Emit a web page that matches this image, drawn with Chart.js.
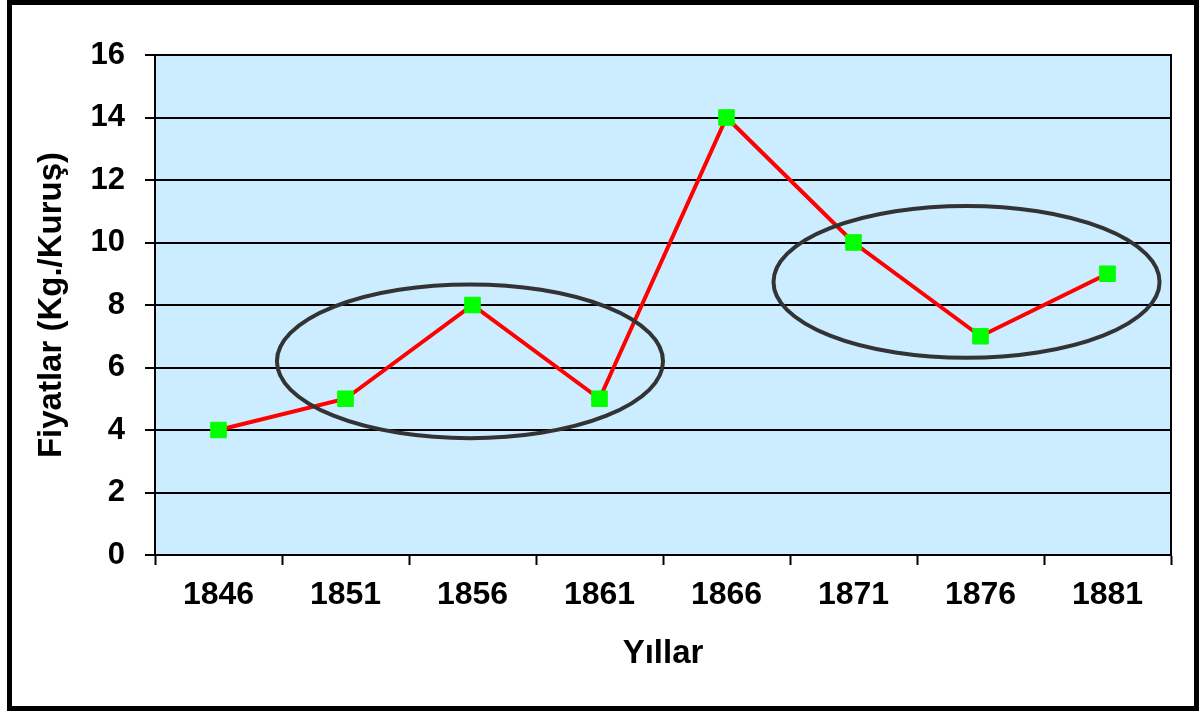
<!DOCTYPE html>
<html>
<head>
<meta charset="utf-8">
<script src="https://cdn.jsdelivr.net/npm/chart.js@4.4.0/dist/chart.umd.min.js"></script>
<style>
    html, body { margin: 0; padding: 0; background: #ffffff; }
    canvas { display: block; }
</style>
</head>
<body>
<canvas id="priceChart" width="1200" height="711"></canvas>
<script>
    'use strict';

    // data
    var years  = ['1846', '1851', '1856', '1861', '1866', '1871', '1876', '1881'];
    var prices = [4, 5, 8, 5, 14, 10, 7, 9];
    var yTicks = [0, 2, 4, 6, 8, 10, 12, 14, 16];

    // circled groups: [category index, value, radius in categories, radius in value units]
    var groupCenterX = [1.98, 5.89];
    var groupCenterY = [6.2, 8.74];
    var groupRadiusX = [1.52, 1.52];
    var groupRadiusY = [2.46, 2.43];

    var colors = {
        plotBg   : "#ccecff",
        line     : "#ff0000",
        marker   : "#00ff00",
        grid     : "#000000",
        ellipse  : "#333333",
        text     : "#000000"
    }

    var fontFamily = "'Liberation Sans', Arial, Helvetica, sans-serif"

    var framePlugin = {
        id: 'frame',
        beforeDraw: function(chart) {
            var ctx = chart.ctx;
            var a = chart.chartArea;
            ctx.save();
            ctx.fillStyle = '#ffffff';
            ctx.fillRect(0, 0, chart.width, chart.height);
            ctx.lineWidth = 5;
            ctx.strokeStyle = '#000000';
            ctx.strokeRect(9.5, 2.5, 1187, 706);
            ctx.fillStyle = colors.plotBg;
            ctx.fillRect(a.left, a.top, a.right - a.left, a.bottom - a.top);
            ctx.restore();
        },
        beforeDatasetsDraw: function(chart) {
            var ctx = chart.ctx;
            var a = chart.chartArea;
            ctx.save();
            ctx.lineWidth = 2;
            ctx.strokeStyle = colors.grid;
            ctx.strokeRect(a.left, a.top, a.right - a.left, a.bottom - a.top);
            ctx.restore();
        },
        afterDatasetsDraw: function(chart) {
            var ctx = chart.ctx;
            var xs = chart.scales.x;
            var ys = chart.scales.y;
            var step = xs.getPixelForValue(1) - xs.getPixelForValue(0);
            ctx.save();
            ctx.lineWidth = 4;
            ctx.strokeStyle = colors.ellipse;
            for (var i = 0; i < groupCenterX.length; i++) {
                var cx = xs.getPixelForValue(0) + groupCenterX[i] * step;
                var cy = ys.getPixelForValue(groupCenterY[i]);
                var rx = groupRadiusX[i] * step;
                var ry = ys.getPixelForValue(0) - ys.getPixelForValue(groupRadiusY[i]);
                ctx.beginPath();
                ctx.ellipse(cx, cy, rx, ry, 0, 0, Math.PI * 2);
                ctx.stroke();
            }
            ctx.restore();
        }
    };

    new Chart(document.getElementById('priceChart'), {
        type: 'line',
        data: {
            labels: years,
            datasets: [{
                data: prices,
                borderColor: colors.line,
                borderWidth: 4,
                backgroundColor: colors.marker,
                pointStyle: 'rect',
                pointRadius: 11,
                pointBorderWidth: 1,
                pointBorderColor: colors.marker,
                pointBackgroundColor: colors.marker,
                tension: 0,
                fill: false
            }]
        },
        plugins: [framePlugin],
        options: {
            responsive: false,
            animation: false,
            layout: {
                padding: { left: 20, right: 29, top: 55, bottom: 10 }
            },
            plugins: {
                legend: { display: false },
                tooltip: { enabled: false }
            },
            scales: {
                x: {
                    offset: true,
                    grid: {
                        offset: true,
                        drawOnChartArea: false,
                        drawTicks: true,
                        tickLength: 10,
                        tickWidth: 2,
                        tickColor: colors.grid
                    },
                    border: { display: true, color: colors.grid, width: 2 },
                    ticks: {
                        color: colors.text,
                        padding: 11,
                        maxRotation: 0,
                        autoSkip: false,
                        font: { size: 32, weight: 'bold', family: fontFamily }
                    },
                    title: {
                        display: true,
                        text: 'Yıllar',
                        color: colors.text,
                        padding: { top: 0, bottom: 27 },
                        font: { size: 33, weight: 'bold', family: fontFamily }
                    },
                    afterFit: function(scale) { scale.height = 146; }
                },
                y: {
                    min: 0,
                    max: 16,
                    afterBuildTicks: function(scale) {
                        scale.ticks = yTicks.map(function(v) { return { value: v }; });
                    },
                    grid: {
                        color: colors.grid,
                        lineWidth: 2,
                        tickLength: 10,
                        tickColor: colors.grid
                    },
                    border: { display: true, color: colors.grid, width: 2 },
                    ticks: {
                        color: colors.text,
                        padding: 20,
                        font: { size: 31, weight: 'bold', family: fontFamily }
                    },
                    title: {
                        display: true,
                        text: 'Fiyatlar (Kg./Kuruş)',
                        color: colors.text,
                        padding: { top: 12, bottom: 0 },
                        font: { size: 33, weight: 'bold', family: fontFamily }
                    },
                    afterFit: function(scale) { scale.width = 135; }
                }
            }
        }
    });
</script>
</body>
</html>
